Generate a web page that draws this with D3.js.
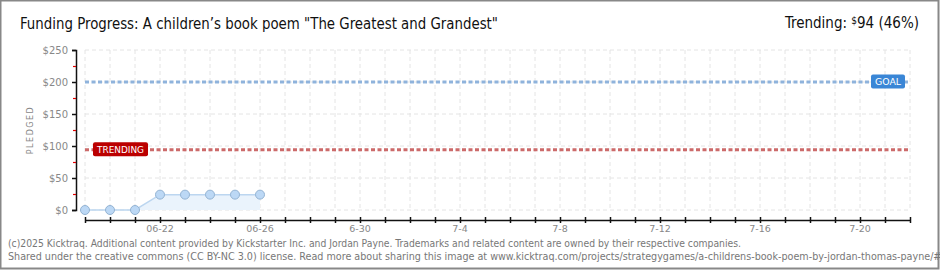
<!DOCTYPE html>
<html>
<head>
<meta charset="utf-8">
<script src="https://cdn.jsdelivr.net/npm/d3@7"></script>
<style>
  body { margin: 0; background: #fff; }
  svg { display: block; }
</style>
</head>
<body>
<svg id="chart" width="940" height="270"></svg>
<script>
const days = ['2025-06-19', '2025-06-20', '2025-06-21', '2025-06-22', '2025-06-23', '2025-06-24', '2025-06-25', '2025-06-26'];
const pledged = [0, 0, 0, 24, 24, 24, 24, 24];
const goal = 200;
const trending = 94;
const yTicks = [0, 50, 100, 150, 200, 250];
const yMinor = [25, 75, 125, 175, 225];
const xLabelDates = ['2025-06-22', '2025-06-26', '2025-06-30', '2025-07-04', '2025-07-08', '2025-07-12', '2025-07-16', '2025-07-20'];
const xLabels = ['06-22', '06-26', '6-30', '7-4', '7-8', '7-12', '7-16', '7-20'];
const startDay = '2025-06-19';
const endDay = '2025-07-22';

const parse = d3.utcParse('%Y-%m-%d');
const svg = d3.select('#chart');
const W = 940, H = 270;

svg.append('rect').attr('x', 0.5).attr('y', 0.5).attr('width', W - 2).attr('height', H - 2)
  .attr('fill', '#fff').attr('stroke', '#888').attr('stroke-width', 2);

const x = d3.scaleUtc().domain([parse(startDay), parse(endDay)]).range([85, 910]);
const y = d3.scaleLinear().domain([0, 250]).range([210, 50]);

// grid
const allDays = d3.utcDay.range(parse(startDay), d3.utcDay.offset(parse(endDay), 1));
svg.append('g').selectAll('line').data(allDays).join('line')
  .attr('x1', (d) => x(d)).attr('x2', (d) => x(d))
  .attr('y1', y(250)).attr('y2', y(0))
  .attr('stroke', '#e4e4e4').attr('stroke-dasharray', '4,3');
svg.append('g').selectAll('line').data(yTicks).join('line')
  .attr('x1', x(parse(startDay))).attr('x2', x(parse(endDay)))
  .attr('y1', (d) => y(d)).attr('y2', (d) => y(d))
  .attr('stroke', '#e4e4e4').attr('stroke-dasharray', '4,3');

// y axis
const yAxis = svg.append('g')
  .attr('transform', 'translate(76,0)')
  .call(d3.axisLeft(y).tickValues(yTicks).tickSize(4).tickFormat((d) => '$' + d));
yAxis.select('.domain').attr('stroke', '#111').attr('stroke-width', 1.5);
yAxis.selectAll('.tick line').attr('stroke', '#111').attr('stroke-width', 1.5);
yAxis.selectAll('.tick text').attr('fill', '#888').attr('x', -8)
  .style('font-family', 'DejaVu Sans').style('font-size', '10px');
const yMin = svg.append('g')
  .attr('transform', 'translate(76,0)')
  .call(d3.axisLeft(y).tickValues(yMinor).tickSize(3).tickFormat(''));
yMin.select('.domain').remove();
yMin.selectAll('.tick line').attr('stroke', '#e00000').attr('stroke-width', 1.2);

svg.append('text')
  .attr('transform', 'translate(33,130) rotate(-90)')
  .attr('text-anchor', 'middle')
  .attr('fill', '#888')
  .style('font-family', 'DejaVu Sans').style('font-size', '8px')
  .style('letter-spacing', '1.5px')
  .text('PLEDGED');

// x axis
const xAxis = svg.append('g')
  .attr('transform', 'translate(0,220)')
  .call(d3.axisBottom(x).tickValues(allDays).tickSize(3).tickSizeOuter(0).tickFormat(''));
xAxis.select('.domain').attr('stroke', '#111').attr('stroke-width', 1.5);
xAxis.selectAll('.tick line').attr('stroke', '#111').attr('stroke-width', 1.5).attr('y1', -3);
svg.append('g').selectAll('text').data(xLabelDates).join('text')
  .attr('x', (d) => x(parse(d)))
  .attr('y', 232)
  .attr('text-anchor', 'middle')
  .attr('fill', '#888')
  .style('font-family', 'DejaVu Sans').style('font-size', '9.5px')
  .text((d, i) => xLabels[i]);

// goal + trending lines
svg.append('line')
  .attr('x1', x(parse(startDay))).attr('x2', x(parse(endDay)))
  .attr('y1', y(goal)).attr('y2', y(goal))
  .attr('stroke', '#8fb3dc').attr('stroke-width', 3).attr('stroke-dasharray', '4,2.5');
svg.append('line')
  .attr('x1', x(parse(startDay))).attr('x2', x(parse(endDay)))
  .attr('y1', y(trending)).attr('y2', y(trending))
  .attr('stroke', '#cc6a6a').attr('stroke-width', 3).attr('stroke-dasharray', '4,2.5');

function badge(cx, cy, w, label, color) {
  svg.append('rect')
    .attr('x', cx).attr('y', cy - 7).attr('width', w).attr('height', 14)
    .attr('rx', 2).attr('fill', color);
  svg.append('text')
    .attr('x', cx + w / 2).attr('y', cy + 3.5)
    .attr('text-anchor', 'middle')
    .attr('fill', '#fff')
    .attr('textLength', w - 8).attr('lengthAdjust', 'spacingAndGlyphs')
    .style('font-family', 'DejaVu Sans').style('font-size', '9.5px')
    .text(label);
}
badge(871, y(goal) - 0.5, 34, 'GOAL', '#3a86d6');
badge(93, y(trending) - 0.5, 55, 'TRENDING', '#bb0000');

// series
const pts = days.map((d, i) => ({ date: parse(d), v: pledged[i] }));
svg.append('path').datum(pts)
  .attr('d', d3.area().x((d) => x(d.date)).y0(y(0)).y1((d) => y(d.v)))
  .attr('fill', '#eaf3fc');
svg.append('path').datum(pts)
  .attr('d', d3.line().x((d) => x(d.date)).y((d) => y(d.v)))
  .attr('fill', 'none').attr('stroke', '#bcd6f0').attr('stroke-width', 1.5);
svg.append('g').selectAll('circle').data(pts).join('circle')
  .attr('cx', (d) => x(d.date)).attr('cy', (d) => y(d.v)).attr('r', 4.5)
  .attr('fill', '#bcd8f5').attr('stroke', '#93b3d3').attr('stroke-width', 1);

// titles
svg.append('text')
  .attr('x', 20).attr('y', 29)
  .attr('fill', '#111')
  .attr('textLength', 478).attr('lengthAdjust', 'spacingAndGlyphs')
  .style('font-family', 'DejaVu Sans Condensed, DejaVu Sans').style('font-size', '15px')
  .text('Funding Progress: A children\u2019s book poem "The Greatest and Grandest"');

const tr = svg.append('text')
  .attr('x', 919).attr('y', 28)
  .attr('text-anchor', 'end')
  .attr('fill', '#111')
  .style('font-family', 'DejaVu Sans Condensed, DejaVu Sans').style('font-size', '15px');
tr.append('tspan').text('Trending:  ');
tr.append('tspan').style('font-size', '10px').attr('dy', -4).text('$');
tr.append('tspan').attr('dy', 4).text('94 (46%)');

// footer
svg.append('text')
  .attr('x', 8).attr('y', 247)
  .attr('fill', '#777')
  .attr('textLength', 733).attr('lengthAdjust', 'spacingAndGlyphs')
  .style('font-family', 'DejaVu Sans Condensed, DejaVu Sans').style('font-size', '10px')
  .text('(c)2025 Kicktraq. Additional content provided by Kickstarter Inc. and Jordan Payne. Trademarks and related content are owned by their respective companies.');
svg.append('text')
  .attr('x', 8).attr('y', 260)
  .attr('fill', '#777')
  .attr('textLength', 960).attr('lengthAdjust', 'spacingAndGlyphs')
  .style('font-family', 'DejaVu Sans Condensed, DejaVu Sans').style('font-size', '10px')
  .text('Shared under the creative commons (CC BY-NC 3.0) license. Read more about sharing this image at www.kicktraq.com/projects/strategygames/a-childrens-book-poem-by-jordan-thomas-payne/#share');
</script>
</body>
</html>
